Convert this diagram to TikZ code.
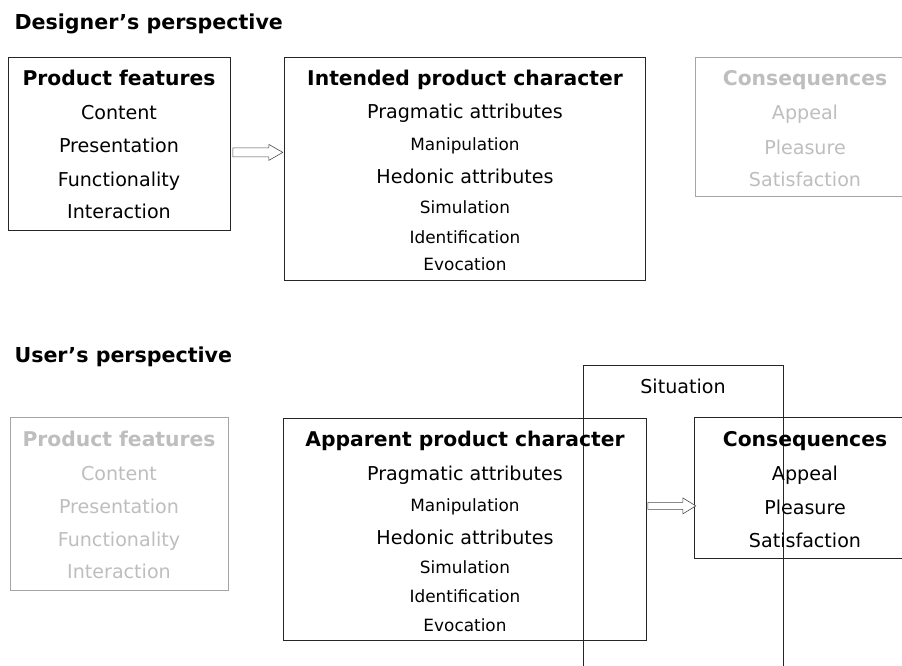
\documentclass[tikz,border=0pt]{standalone}
\usepackage{fontspec}
\setmainfont{DejaVu Sans}
\usetikzlibrary{calc}
\definecolor{fadetext}{RGB}{190,190,190}
\definecolor{fadeline}{RGB}{165,165,165}
\tikzset{
    box/.style={draw=black!85, line width=0.8pt, inner sep=0pt, anchor=north west},
    fadebox/.style={box, draw=fadeline},
    heading/.style={font=\bfseries\fontsize{20.6}{24}\selectfont, anchor=base west},
    boxtitle/.style={font=\bfseries\fontsize{20.3}{24}\selectfont, anchor=base},
    bigline/.style={font=\fontsize{19.1}{22}\selectfont, anchor=base},
    smallline/.style={font=\fontsize{16.9}{19}\selectfont, anchor=base},
    faded/.style={text=fadetext},
    hollow/.style={draw=black!70, line width=0.6pt, fill=white},
}

\begin{document}
\begin{tikzpicture}[x=1pt, y=-1pt]
        \useasboundingbox[fill=white] (0,0) rectangle (902,666);
        \clip (0,0) rectangle (902,666);
        %titoli
        \node[heading] (dtitle) at (11,30) {Designer’s perspective};
        \node[heading] (utitle) at (11,362) {User’s perspective};
        %riquadri progettista
        \node[box, minimum width=222pt, minimum height=173pt] (feat) at (8,57) {};
        \node[box, minimum width=361pt, minimum height=223pt] (intended) at (284,57) {};
        \node[fadebox, minimum width=222pt, minimum height=139pt] (dcons) at (695,57) {};
        %riquadri utente
        \node[fadebox, minimum width=218pt, minimum height=173pt] (ufeat) at (10,417) {};
        \node[box, minimum width=363pt, minimum height=222pt] (apparent) at (283,418) {};
        \node[box, minimum width=200pt, minimum height=340pt] (situation) at (583,365) {};
        \node[box, minimum width=222pt, minimum height=141pt] (ucons) at (694,417) {};
        %testo product features
        \node[boxtitle] (featT) at (119,86) {Product features};
        \node[bigline] (featA) at (119,120) {Content};
        \node[bigline] (featB) at (119,153) {Presentation};
        \node[bigline] (featC) at (119,186) {Functionality};
        \node[bigline] (featD) at (119,218) {Interaction};
        \node[boxtitle, faded] (ufeatT) at (119,446) {Product features};
        \node[bigline, faded] (ufeatA) at (119,480) {Content};
        \node[bigline, faded] (ufeatB) at (119,513) {Presentation};
        \node[bigline, faded] (ufeatC) at (119,546) {Functionality};
        \node[bigline, faded] (ufeatD) at (119,578) {Interaction};
        %testo carattere del prodotto
        \node[boxtitle] (intT) at (465,86) {Intended product character};
        \node[bigline] (intA) at (465,119) {Pragmatic attributes};
        \node[smallline] (intB) at (465,150) {Manipulation};
        \node[bigline] (intC) at (465,183) {Hedonic attributes};
        \node[smallline] (intD) at (465,213) {Simulation};
        \node[smallline] (intE) at (465,243) {Identification};
        \node[smallline] (intF) at (465,270) {Evocation};
        \node[boxtitle] (appT) at (465,446) {Apparent product character};
        \node[bigline] (appA) at (465,480) {Pragmatic attributes};
        \node[smallline] (appB) at (465,511) {Manipulation};
        \node[bigline] (appC) at (465,544) {Hedonic attributes};
        \node[smallline] (appD) at (465,573) {Simulation};
        \node[smallline] (appE) at (465,602) {Identification};
        \node[smallline] (appF) at (465,631) {Evocation};
        %testo conseguenze
        \node[boxtitle, faded] (dconsT) at (805,86) {Consequences};
        \node[bigline, faded] (dconsA) at (805,120) {Appeal};
        \node[bigline, faded] (dconsB) at (805,154) {Pleasure};
        \node[bigline, faded] (dconsC) at (805,186) {Satisfaction};
        \node[boxtitle] (uconsT) at (805,446) {Consequences};
        \node[bigline] (uconsA) at (805,480) {Appeal};
        \node[bigline] (uconsB) at (805,514) {Pleasure};
        \node[bigline] (uconsC) at (805,547) {Satisfaction};
        \node[bigline] (sitT) at (683,393) {Situation};
        %frecce
        \draw[hollow] ($(feat.east)+(2,13)$) -- ++(36,0) -- ++(0,3.5) -- ++(14,-8) -- ++(-14,-8) -- ++(0,3.5) -- ++(-36,0) -- cycle;
        \draw[hollow] ($(apparent.east)+(1,-20)$) -- ++(35,0) -- ++(0,4.5) -- ++(13,-8) -- ++(-13,-8) -- ++(0,4.5) -- ++(-35,0) -- cycle;
\end{tikzpicture}
\end{document}
